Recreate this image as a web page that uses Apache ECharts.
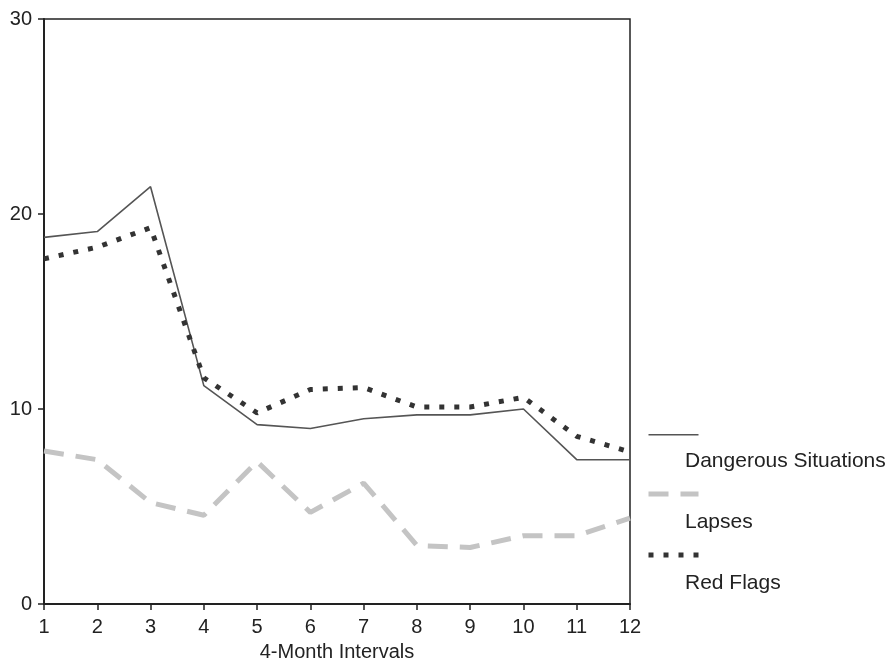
<!DOCTYPE html>
<html>
<head>
<meta charset="utf-8">
<script src="https://cdn.jsdelivr.net/npm/echarts@6/dist/echarts.min.js"></script>
<style>html,body{margin:0;padding:0;background:#fff}#c{width:892px;height:665px}</style>
</head>
<body>
<div id="c"></div>
<script>
var categories = ['1','2','3','4','5','6','7','8','9','10','11','12'];
var dangerousSituations = [18.8, 19.1, 21.4, 11.2, 9.2, 9.0, 9.5, 9.7, 9.7, 10.0, 7.4, 7.4];
var lapses = [7.85, 7.4, 5.2, 4.55, 7.3, 4.7, 6.2, 3.0, 2.9, 3.5, 3.5, 4.4];
var redFlags = [17.7, 18.3, 19.3, 11.6, 9.8, 11.0, 11.1, 10.1, 10.1, 10.6, 8.6, 7.8];
var yTicks = [0, 10, 20, 30];
var seriesNames = ['Dangerous Situations', 'Lapses', 'Red Flags'];

var FONT = '"Liberation Sans", Arial, sans-serif';
var chart = echarts.init(document.getElementById('c'), null, {renderer: 'canvas'});

var lineStyles = [
  {color: '#555555', width: 1.6, type: 'solid'},
  {color: '#c4c4c4', width: 5, type: [20, 12]},
  {color: '#333333', width: 5, type: [5, 10]}
];
var legendY = [433, 494, 555];

var graphics = [];
seriesNames.forEach(function (n, i) {
  graphics.push({
    type: 'line', left: 646, top: legendY[i] - lineStyles[i].width / 2,
    shape: {x1: 0, y1: 0, x2: 50, y2: 0},
    style: {stroke: lineStyles[i].color, lineWidth: lineStyles[i].width, lineDash: lineStyles[i].type === 'solid' ? null : lineStyles[i].type}
  });
  graphics.push({
    type: 'text', left: 685, top: legendY[i] + 18,
    style: {text: n, font: '21px ' + FONT, fill: '#222'}
  });
});

chart.setOption({
  animation: false,
  grid: {left: 44, right: 262, top: 19, bottom: 61, outerBoundsMode: 'none', containLabel: false, show: true, borderColor: '#222', borderWidth: 1.5, backgroundColor: 'transparent'},
  xAxis: {
    type: 'category', data: categories, boundaryGap: false,
    name: '4-Month Intervals', nameLocation: 'middle', nameGap: 38,
    nameTextStyle: {fontSize: 20, color: '#222', fontFamily: FONT},
    axisLine: {lineStyle: {color: '#222', width: 2}},
    axisTick: {show: true, inside: false, length: 6, alignWithLabel: true, lineStyle: {color: '#222', width: 1.5}},
    axisLabel: {fontSize: 20, color: '#222', fontFamily: FONT, margin: 13},
    splitLine: {show: false}
  },
  yAxis: {
    type: 'value', min: yTicks[0], max: yTicks[yTicks.length - 1], interval: 10,
    axisLine: {show: true, lineStyle: {color: '#222', width: 2}},
    axisTick: {show: true, inside: false, length: 6, lineStyle: {color: '#222', width: 1.5}},
    axisLabel: {fontSize: 20, color: '#222', fontFamily: FONT, margin: 12},
    splitLine: {show: false}
  },
  graphic: graphics,
  series: [
    {name: seriesNames[0], type: 'line', data: dangerousSituations, symbol: 'none', lineStyle: lineStyles[0], z: 3},
    {name: seriesNames[1], type: 'line', data: lapses, symbol: 'none', lineStyle: lineStyles[1], z: 2},
    {name: seriesNames[2], type: 'line', data: redFlags, symbol: 'none', lineStyle: lineStyles[2], z: 4}
  ]
});
</script>
</body>
</html>
